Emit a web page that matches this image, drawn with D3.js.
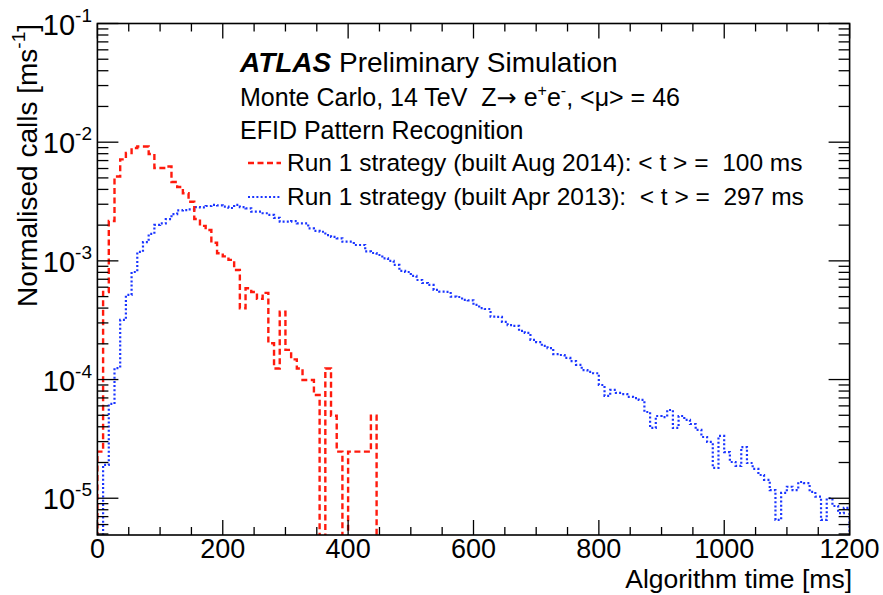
<!DOCTYPE html>
<html>
<head>
<meta charset="utf-8">
<script src="https://cdn.jsdelivr.net/npm/d3@7"></script>
<style>
  html, body { margin: 0; padding: 0; background: #fff; }
  svg text { font-family: "Liberation Sans", Arial, Helvetica, sans-serif; fill: #000; white-space: pre; }
</style>
</head>
<body>
<svg id="chart" width="883" height="595"></svg>
<script>
// ---------------- data ----------------
const xDomain = [0, 1200];           // ms
const yDomain = [4.9e-6, 0.1];       // normalised calls [ms^-1]
const binWidth = 9.09;               // ms per histogram bin

// Run 1 strategy (built Aug 2014), <t> = 100 ms  (red, dashed)
const aug2014 = [
  2.47e-5, 5.47e-4, 2.17e-3, 5.14e-3, 7.17e-3, 8.11e-3, 8.94e-3, 9.20e-3, 9.20e-3, 7.96e-3,
  6.06e-3, 6.06e-3, 6.24e-3, 4.62e-3, 4.19e-3, 3.71e-3, 3.15e-3, 2.25e-3, 1.97e-3, 1.82e-3,
  1.42e-3, 1.16e-3, 1.09e-3, 1.02e-3, 8.38e-4, 3.99e-4, 5.88e-4, 5.47e-4, 4.78e-4, 5.37e-4,
  2.02e-4, 1.24e-4, 3.73e-4, 1.78e-4, 1.48e-4, 1.24e-4, 9.9e-5, 9.9e-5, 7.4e-5, 0,
  1.24e-4, 4.95e-5, 2.47e-5, 0, 2.47e-5, 2.47e-5, 2.47e-5, 2.47e-5, 4.95e-5, 0
];

// Run 1 strategy (built Apr 2013), <t> = 297 ms  (blue, dotted)
const apr2013 = [
  0, 1.91e-5, 6.23e-5, 1.25e-4, 3.18e-4, 5.16e-4, 8.06e-4, 1.19e-3, 1.44e-3, 1.69e-3,
  2.01e-3, 2.07e-3, 2.25e-3, 2.48e-3, 2.66e-3, 2.68e-3, 2.72e-3, 2.84e-3, 2.82e-3, 2.90e-3,
  2.96e-3, 2.93e-3, 2.86e-3, 2.79e-3, 2.96e-3, 2.84e-3, 2.77e-3, 2.60e-3, 2.60e-3, 2.52e-3,
  2.44e-3, 2.30e-3, 2.14e-3, 2.14e-3, 2.16e-3, 2.07e-3, 2.07e-3, 1.88e-3, 1.79e-3, 1.76e-3,
  1.65e-3, 1.59e-3, 1.55e-3, 1.45e-3, 1.45e-3, 1.36e-3, 1.36e-3, 1.20e-3, 1.165e-3, 1.12e-3,
  1.05e-3, 9.98e-4, 9.24e-4, 8.22e-4, 8.06e-4, 7.46e-4, 6.90e-4, 6.51e-4, 6.27e-4, 5.69e-4,
  5.50e-4, 5.47e-4, 4.99e-4, 4.96e-4, 4.69e-4, 4.65e-4, 4.25e-4, 3.99e-4, 3.93e-4, 3.39e-4,
  3.37e-4, 3.06e-4, 2.88e-4, 2.83e-4, 2.57e-4, 2.47e-4, 2.16e-4, 2.07e-4, 1.92e-4, 1.84e-4,
  1.64e-4, 1.61e-4, 1.52e-4, 1.43e-4, 1.33e-4, 1.20e-4, 1.16e-4, 1.13e-4, 9.0e-5, 7.28e-5,
  8.18e-5, 7.71e-5, 7.55e-5, 7.14e-5, 6.98e-5, 6.73e-5, 5.33e-5, 3.91e-5, 4.93e-5, 4.83e-5,
  5.54e-5, 3.91e-5, 4.93e-5, 4.57e-5, 4.22e-5, 3.76e-5, 3.28e-5, 2.98e-5, 1.80e-5, 3.35e-5,
  2.45e-5, 2.02e-5, 1.87e-5, 2.70e-5, 1.98e-5, 1.77e-5, 1.57e-5, 1.43e-5, 1.17e-5, 6.56e-6,
  1.11e-5, 1.25e-5, 1.17e-5, 1.37e-5, 1.34e-5, 1.13e-5, 1.03e-5, 6.56e-6, 1.0e-5, 8.6e-6,
  7.5e-6, 8.3e-6
];

const xTickLabels = ["0", "200", "400", "600", "800", "1000", "1200"];
const yTickExponents = ["-5", "-4", "-3", "-2", "-1"];

const seriesNames = [
  "Run 1 strategy (built Aug 2014): < t > =  100 ms",
  "Run 1 strategy (built Apr 2013):  < t > =  297 ms"
];

// ---------------- layout ----------------
const W = 883, H = 595;
const plot = { left: 97.4, right: 849.6, top: 23.5, bottom: 535 };

const svg = d3.select("#chart");

const x = d3.scaleLinear().domain(xDomain).range([plot.left, plot.right]);
const y = d3.scaleLog().domain(yDomain).range([plot.bottom, plot.top]);

const yPos = v => (v > 0 ? Math.min(y(v), plot.bottom + 3) : plot.bottom + 3);

svg.append("defs").append("clipPath").attr("id", "clip")
  .append("rect")
  .attr("x", plot.left).attr("y", plot.top)
  .attr("width", plot.right - plot.left).attr("height", plot.bottom - plot.top);

// step histogram outline
function stepPoints(vals) {
  const pts = [[0, 0]];
  vals.forEach((v, i) => {
    pts.push([i * binWidth, v]);
    pts.push([(i + 1) * binWidth, v]);
  });
  pts.push([vals.length * binWidth, 0]);
  return pts;
}
const line = d3.line().x(d => x(d[0])).y(d => yPos(d[1]));

const gData = svg.append("g").attr("clip-path", "url(#clip)");

gData.append("path")
  .attr("d", line(stepPoints(apr2013)))
  .attr("fill", "none")
  .attr("stroke", "#1a35ff")
  .attr("stroke-width", 2.2)
  .attr("stroke-dasharray", "2,2.2");

gData.append("path")
  .attr("d", line(stepPoints(aug2014)))
  .attr("fill", "none")
  .attr("stroke", "#ff1a0d")
  .attr("stroke-width", 2.4)
  .attr("stroke-dasharray", "6,3.5");

// ---------------- frame + ticks ----------------
const gAxes = svg.append("g").attr("stroke", "#000").attr("fill", "none");

gAxes.append("rect")
  .attr("x", plot.left).attr("y", plot.top)
  .attr("width", plot.right - plot.left).attr("height", plot.bottom - plot.top)
  .attr("stroke-width", 1.6);

// x ticks (bottom + top, inward)
x.ticks(24).forEach(t => {
  const major = (t % 200 === 0);
  const len = major ? 15 : 8;
  const xx = x(t);
  gAxes.append("line").attr("x1", xx).attr("x2", xx)
    .attr("y1", plot.bottom).attr("y2", plot.bottom - len).attr("stroke-width", 1.3);
  gAxes.append("line").attr("x1", xx).attr("x2", xx)
    .attr("y1", plot.top).attr("y2", plot.top + len).attr("stroke-width", 1.3);
});

// y ticks (left + right, inward)
y.ticks().forEach(t => {
  const lg = Math.log10(t);
  const major = Math.abs(lg - Math.round(lg)) < 1e-9;
  const len = major ? 21 : 11;
  const yy = y(t);
  if (yy > plot.bottom - 0.5 || yy < plot.top - 0.5) return;
  gAxes.append("line").attr("x1", plot.left).attr("x2", plot.left + len)
    .attr("y1", yy).attr("y2", yy).attr("stroke-width", 1.3);
  gAxes.append("line").attr("x1", plot.right).attr("x2", plot.right - len)
    .attr("y1", yy).attr("y2", yy).attr("stroke-width", 1.3);
});

// ---------------- tick labels ----------------
const gLab = svg.append("g");
xTickLabels.forEach(s => {
  gLab.append("text")
    .attr("x", x(+s)).attr("y", 558)
    .attr("text-anchor", "middle")
    .attr("font-size", 27)
    .text(s);
});

yTickExponents.forEach(e => {
  const yy = y(Math.pow(10, +e));
  const t = gLab.append("text")
    .attr("x", 92).attr("y", yy + 11)
    .attr("text-anchor", "end")
    .attr("font-size", 29);
  t.append("tspan").text("10");
  t.append("tspan").attr("font-size", 19).attr("dy", -13).text(e);
});

// ---------------- axis titles ----------------
svg.append("text")
  .attr("x", 852).attr("y", 588)
  .attr("text-anchor", "end")
  .attr("font-size", 26.5)
  .text("Algorithm time [ms]");

const yt = svg.append("text")
  .attr("transform", "translate(37,24) rotate(-90)")
  .attr("text-anchor", "end")
  .attr("font-size", 28);
yt.append("tspan").text("Normalised calls [ms");
yt.append("tspan").attr("font-size", 19).attr("dy", -12).text("-1");
yt.append("tspan").attr("dy", 12).text("]");

// ---------------- labels / legend ----------------
const gLeg = svg.append("g");
const atl = gLeg.append("text").attr("x", 240).attr("y", 72).attr("font-size", 28);
atl.append("tspan").attr("font-weight", "bold").attr("font-style", "italic").text("ATLAS");
atl.append("tspan").text(" Preliminary Simulation");

const mc = gLeg.append("text").attr("x", 240).attr("y", 106).attr("font-size", 25);
mc.append("tspan").text("Monte Carlo, 14 TeV  Z");
mc.append("tspan").attr("font-family", "DejaVu Sans").attr("font-size", 24).text("\u2192");
mc.append("tspan").text(" e");
mc.append("tspan").attr("font-size", 16).attr("dy", -10).text("+");
mc.append("tspan").attr("dy", 10).text("e");
mc.append("tspan").attr("font-size", 16).attr("dy", -10).text("-");
mc.append("tspan").attr("dy", 10).text(", <\u03BC> = 46");

gLeg.append("text").attr("x", 240).attr("y", 139).attr("font-size", 25)
  .text("EFID Pattern Recognition");

const legendRows = [
  { name: seriesNames[0], color: "#ff1a0d", dash: "6,3.5", width: 2.4, y: 171 },
  { name: seriesNames[1], color: "#1a35ff", dash: "2,2.2", width: 2.2, y: 205 }
];
legendRows.forEach(r => {
  gLeg.append("line")
    .attr("x1", 248).attr("x2", 281)
    .attr("y1", r.y - 8).attr("y2", r.y - 8)
    .attr("stroke", r.color).attr("stroke-width", r.width)
    .attr("stroke-dasharray", r.dash);
  gLeg.append("text").attr("x", 287).attr("y", r.y).attr("font-size", 24.5).text(r.name);
});
</script>
</body>
</html>
